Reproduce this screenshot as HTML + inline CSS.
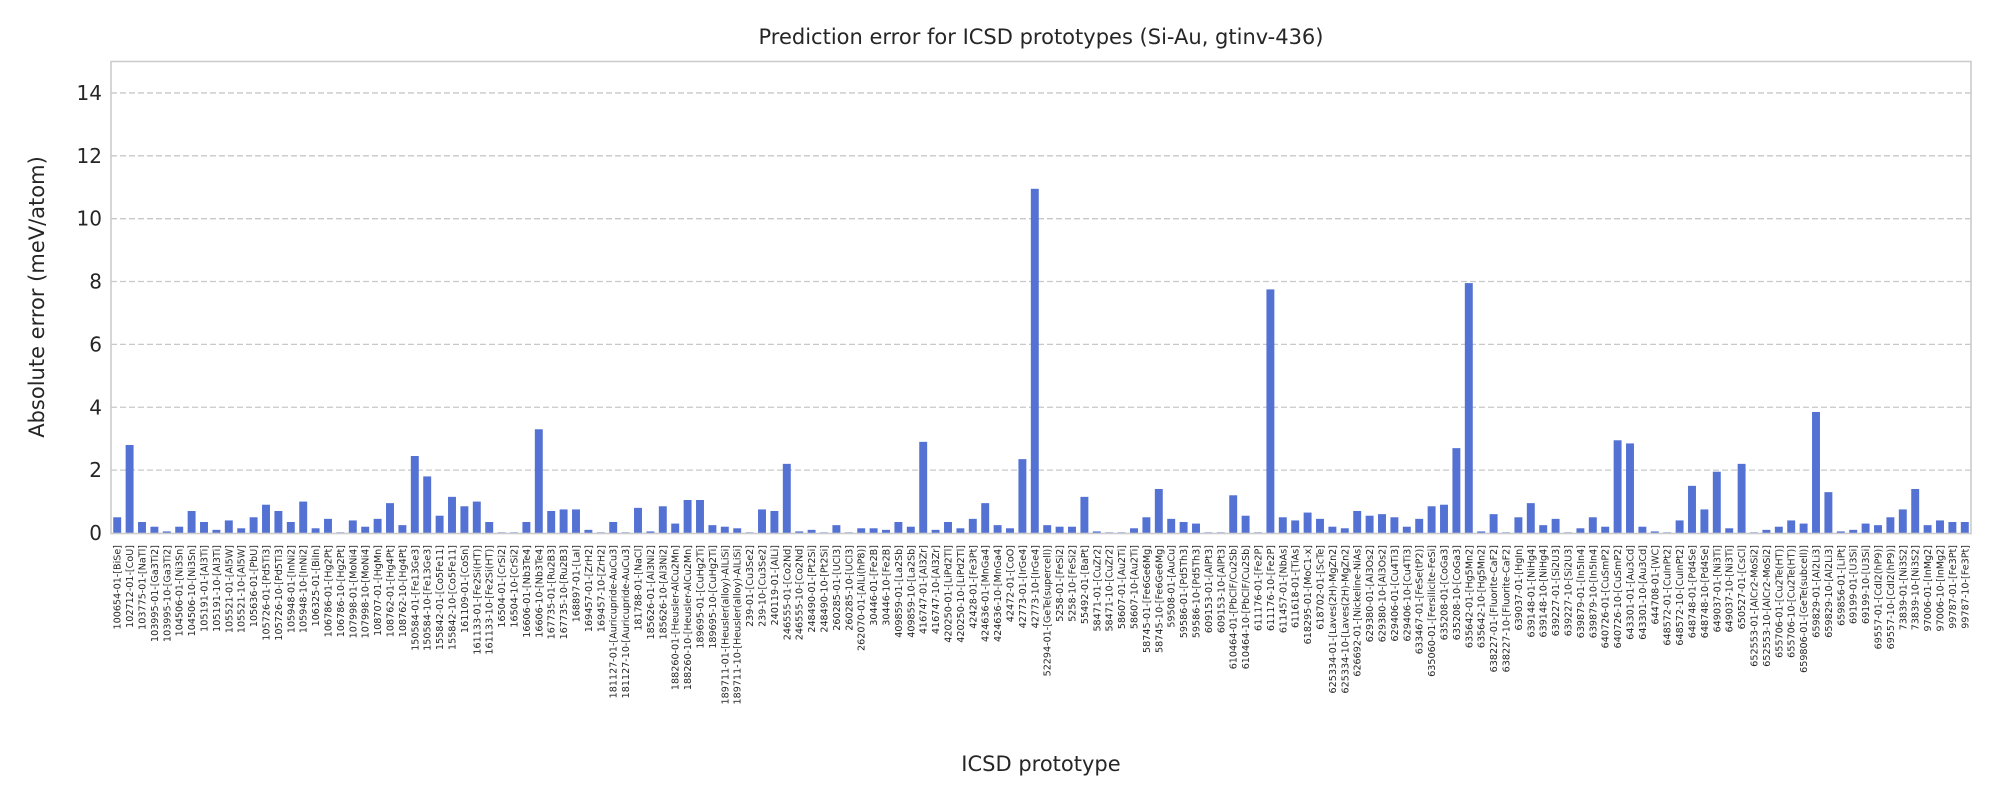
<!DOCTYPE html>
<html><head><meta charset="utf-8"><style>
html,body{margin:0;padding:0;background:#fff;}
svg text{font-family:"DejaVu Sans","Liberation Sans",sans-serif;fill:#262626;}
</style></head><body>
<svg id="chart" width="2000" height="800" viewBox="0 0 2000 800" xmlns="http://www.w3.org/2000/svg">
<rect x="0" y="0" width="2000" height="800" fill="#fff"/>
<g id="grid"></g>
<g id="bars"></g>
<g id="yticks"></g>
<g id="xticks"></g>
<rect x="111" y="61.5" width="1860" height="472" fill="none" stroke="#cccccc" stroke-width="1.6"/>
<text x="1041" y="44" text-anchor="middle" font-size="21">Prediction error for ICSD prototypes (Si-Au, gtinv-436)</text>
<text x="1041" y="771" text-anchor="middle" font-size="21">ICSD prototype</text>
<text transform="translate(44,297) rotate(-90)" text-anchor="middle" font-size="21">Absolute error (meV/atom)</text>
</svg>
<script>
const categories = ["100654-01-[BiSe]","102712-01-[CoU]","103775-01-[NaTl]","103995-01-[Ga3Ti2]","103995-10-[Ga3Ti2]","104506-01-[Ni3Sn]","104506-10-[Ni3Sn]","105191-01-[Al3Ti]","105191-10-[Al3Ti]","105521-01-[Al5W]","105521-10-[Al5W]","105636-01-[PbU]","105726-01-[Pd5Ti3]","105726-10-[Pd5Ti3]","105948-01-[InNi2]","105948-10-[InNi2]","106325-01-[BiIn]","106786-01-[Hg2Pt]","106786-10-[Hg2Pt]","107998-01-[MoNi4]","107998-10-[MoNi4]","108707-01-[HgMn]","108762-01-[Hg4Pt]","108762-10-[Hg4Pt]","150584-01-[Fe13Ge3]","150584-10-[Fe13Ge3]","155842-01-[Co5Fe11]","155842-10-[Co5Fe11]","161109-01-[CoSn]","161133-01-[Fe2Si(HT)]","161133-10-[Fe2Si(HT)]","16504-01-[CrSi2]","16504-10-[CrSi2]","16606-01-[Nb3Te4]","16606-10-[Nb3Te4]","167735-01-[Ru2B3]","167735-10-[Ru2B3]","168897-01-[LaI]","169457-01-[ZrH2]","169457-10-[ZrH2]","181127-01-[Auricupride-AuCu3]","181127-10-[Auricupride-AuCu3]","181788-01-[NaCl]","185626-01-[Al3Ni2]","185626-10-[Al3Ni2]","188260-01-[Heusler-AlCu2Mn]","188260-10-[Heusler-AlCu2Mn]","189695-01-[CuHg2Ti]","189695-10-[CuHg2Ti]","189711-01-[Heusler(alloy)-AlLiSi]","189711-10-[Heusler(alloy)-AlLiSi]","239-01-[Cu3Se2]","239-10-[Cu3Se2]","240119-01-[AlLi]","246555-01-[Co2Nd]","246555-10-[Co2Nd]","248490-01-[Pt2Si]","248490-10-[Pt2Si]","260285-01-[UCl3]","260285-10-[UCl3]","262070-01-[AlLi(hP8)]","30446-01-[Fe2B]","30446-10-[Fe2B]","409859-01-[La2Sb]","409859-10-[La2Sb]","416747-01-[Al3Zr]","416747-10-[Al3Zr]","420250-01-[LiPd2Tl]","420250-10-[LiPd2Tl]","42428-01-[Fe3Pt]","424636-01-[MnGa4]","424636-10-[MnGa4]","42472-01-[CoO]","42773-01-[IrGe4]","42773-10-[IrGe4]","52294-01-[GeTe(supercell)]","5258-01-[FeSi2]","5258-10-[FeSi2]","55492-01-[BaPt]","58471-01-[CuZr2]","58471-10-[CuZr2]","58607-01-[Au2Ti]","58607-10-[Au2Ti]","58745-01-[Fe6Ge6Mg]","58745-10-[Fe6Ge6Mg]","59508-01-[AuCu]","59586-01-[Pd5Th3]","59586-10-[Pd5Th3]","609153-01-[AlPt3]","609153-10-[AlPt3]","610464-01-[PbClF/Cu2Sb]","610464-10-[PbClF/Cu2Sb]","611176-01-[Fe2P]","611176-10-[Fe2P]","611457-01-[NbAs]","611618-01-[TiAs]","618295-01-[MoC1-x]","618702-01-[ScTe]","625334-01-[Laves(2H)-MgZn2]","625334-10-[Laves(2H)-MgZn2]","626692-01-[Nickeline-NiAs]","629380-01-[Al3Os2]","629380-10-[Al3Os2]","629406-01-[Cu4Ti3]","629406-10-[Cu4Ti3]","633467-01-[FeSe(tP2)]","635060-01-[Fersilicite-FeSi]","635208-01-[CoGa3]","635208-10-[CoGa3]","635642-01-[Hg5Mn2]","635642-10-[Hg5Mn2]","638227-01-[Fluorite-CaF2]","638227-10-[Fluorite-CaF2]","639037-01-[HgIn]","639148-01-[NiHg4]","639148-10-[NiHg4]","639227-01-[Si2U3]","639227-10-[Si2U3]","639879-01-[In5In4]","639879-10-[In5In4]","640726-01-[CuSmP2]","640726-10-[CuSmP2]","643301-01-[Au3Cd]","643301-10-[Au3Cd]","644708-01-[WC]","648572-01-[CuInPt2]","648572-10-[CuInPt2]","648748-01-[Pd4Se]","648748-10-[Pd4Se]","649037-01-[Ni3Ti]","649037-10-[Ni3Ti]","650527-01-[CsCl]","652553-01-[AlCr2-MoSi2]","652553-10-[AlCr2-MoSi2]","655706-01-[Cu2Te(HT)]","655706-10-[Cu2Te(HT)]","659806-01-[GeTe(subcell)]","659829-01-[Al2Li3]","659829-10-[Al2Li3]","659856-01-[LiPt]","69199-01-[U3Si]","69199-10-[U3Si]","69557-01-[CdI2(hP9)]","69557-10-[CdI2(hP9)]","73839-01-[Ni3S2]","73839-10-[Ni3S2]","97006-01-[InMg2]","97006-10-[InMg2]","99787-01-[Fe3Pt]","99787-10-[Fe3Pt]"];
const errors = [0.5,2.8,0.35,0.2,0.05,0.2,0.7,0.35,0.1,0.4,0.15,0.5,0.9,0.7,0.35,1.0,0.15,0.45,0.02,0.4,0.2,0.45,0.95,0.25,2.45,1.8,0.55,1.15,0.85,1.0,0.35,0.02,0.02,0.35,3.3,0.7,0.75,0.75,0.1,0.02,0.35,0.02,0.8,0.05,0.85,0.3,1.05,1.05,0.25,0.2,0.15,0.02,0.75,0.7,2.2,0.05,0.1,0.02,0.25,0.02,0.15,0.15,0.1,0.35,0.2,2.9,0.1,0.35,0.15,0.45,0.95,0.25,0.15,2.35,10.95,0.25,0.2,0.2,1.15,0.05,0.02,0.02,0.15,0.5,1.4,0.45,0.35,0.3,0.02,0.02,1.2,0.55,0.02,7.75,0.5,0.4,0.65,0.45,0.2,0.15,0.7,0.55,0.6,0.5,0.2,0.45,0.85,0.9,2.7,7.95,0.05,0.6,0.02,0.5,0.95,0.25,0.45,0.02,0.15,0.5,0.2,2.95,2.85,0.2,0.05,0.02,0.4,1.5,0.75,1.95,0.15,2.2,0.02,0.1,0.2,0.4,0.3,3.85,1.3,0.05,0.1,0.3,0.25,0.5,0.75,1.4,0.25,0.4,0.35,0.35];
const yTicks = [0,2,4,6,8,10,12,14];
const yMax = 15;

const NS = "http://www.w3.org/2000/svg";
const X0 = 111, X1 = 1971, Y0 = 533, Y1 = 61.5;
const band = (X1 - X0) / categories.length;
function xScale(i){ return X0 + band * (i + 0.5); }
function yScale(v){ return Y0 - (v / yMax) * (Y0 - Y1); }
function mk(tag, attrs){ const e = document.createElementNS(NS, tag); for (const k in attrs) e.setAttribute(k, attrs[k]); return e; }

const grid = document.getElementById('grid'), yt = document.getElementById('yticks');
yTicks.forEach(t => {
  const y = yScale(t);
  if (t > 0) {
    const l = mk('line', {x1: X0, x2: X1, y1: y, y2: y, stroke: '#c8c8c8', 'stroke-width': 1.3, 'stroke-dasharray': '6,3'});
    
    
    grid.appendChild(l);
  }
  const tx = mk('text', {x: 102, y: y + 7, 'text-anchor': 'end', 'font-size': 20});
  tx.textContent = t;
  
  
  yt.appendChild(tx);
});

const bars = document.getElementById('bars'), xt = document.getElementById('xticks');
const bw = band * 0.64;
categories.forEach((c, i) => {
  const cx = xScale(i), v = errors[i];
  const r = mk('rect', {x: cx - bw / 2, y: yScale(v), width: bw, height: Y0 - yScale(v), fill: '#5472d3'});
  
  
  bars.appendChild(r);
  const tx = mk('text', {transform: 'translate(' + (cx + 3.5) + ',545) rotate(-90)', 'text-anchor': 'end', 'font-size': 9.6});
  tx.textContent = c;
  
  
  xt.appendChild(tx);
});
</script>
</body></html>
